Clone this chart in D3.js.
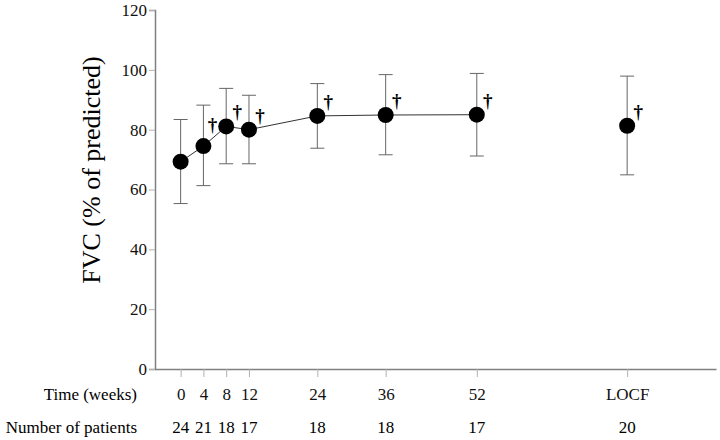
<!DOCTYPE html>
<html>
<head>
<meta charset="utf-8">
<script src="https://cdn.jsdelivr.net/npm/d3@7"></script>
<style>
  body { margin: 0; background: #fff; }
  svg text { font-family: "Liberation Serif", "DejaVu Serif", "Times New Roman", serif; }
</style>
</head>
<body>
<svg id="chart"></svg>
<script>
// data
const timeLabels = ["0", "4", "8", "12", "24", "36", "52", "LOCF"];
const timePos = [0, 4, 8, 12, 24, 36, 52, 78.4]; // LOCF drawn on its own past week 52
const fvcMean = [69.3, 74.5, 81.1, 80.0, 84.6, 84.9, 85.0, 81.3];
const fvcUpper = [83.4, 88.2, 93.8, 91.5, 95.4, 98.4, 98.8, 97.9];
const fvcLower = [55.3, 61.3, 68.6, 68.6, 73.8, 71.6, 71.2, 64.9];
const patients = [24, 21, 18, 17, 18, 18, 17, 20];
const significant = [false, true, true, true, true, true, true, true];
const yTicks = [0, 20, 40, 60, 80, 100, 120];

const width = 720, height = 440;
const serif = '"Liberation Serif", "DejaVu Serif", serif';
const svg = d3.select("#chart").attr("width", width).attr("height", height);

const x = d3.scaleLinear().domain([-4.5, 94]).range([155, 716]);
const y = d3.scaleLinear().domain([0, 120]).range([369, 10]);

const points = timePos.map((t, i) => ({
  t, label: timeLabels[i], mean: fvcMean[i], hi: fvcUpper[i], lo: fvcLower[i],
  n: patients[i], sig: significant[i],
  next: i < timePos.length - 2 ? fvcMean[i + 1] : null
}));

// y axis
const yAxis = svg.append("g")
  .attr("transform", `translate(${x(-4.5)},0)`)
  .call(d3.axisLeft(y).tickValues(yTicks).tickSize(6).tickPadding(2))
  .attr("font-family", serif);
yAxis.select(".domain").attr("stroke", "#808080").attr("stroke-width", 1.5);
yAxis.selectAll(".tick line").attr("stroke", "#b0b0b0");
yAxis.selectAll(".tick text")
  .attr("fill", "#111")
  .attr("font-size", 17);

// x axis
const xAxis = svg.append("g")
  .attr("transform", `translate(0,${y(0)})`)
  .call(d3.axisBottom(x)
    .tickValues(timePos)
    .tickFormat((d, i) => timeLabels[i])
    .tickSize(8)
    .tickSizeOuter(0)
    .tickPadding(11))
  .attr("font-family", serif);
xAxis.select(".domain").attr("stroke", "#808080").attr("stroke-width", 1.5);
xAxis.selectAll(".tick line").attr("stroke", "#b0b0b0");
xAxis.selectAll(".tick text")
  .attr("fill", "#111")
  .attr("font-size", 17);

// row titles and patient counts
svg.append("text")
  .attr("x", 137).attr("y", 400)
  .attr("text-anchor", "end")
  .attr("font-size", 17)
  .text("Time (weeks)");

svg.append("text")
  .attr("x", 137).attr("y", 433)
  .attr("text-anchor", "end")
  .attr("font-size", 17)
  .text("Number of patients");

svg.append("g").selectAll("text")
  .data(points)
  .join("text")
  .attr("x", d => x(d.t))
  .attr("y", 433)
  .attr("text-anchor", "middle")
  .attr("font-size", 17)
  .text(d => d.n);

// y label
svg.append("text")
  .attr("transform", "rotate(-90)")
  .attr("x", -170).attr("y", 100)
  .attr("text-anchor", "middle")
  .attr("font-size", 26)
  .text("FVC (% of predicted)");

// error bars
const bars = svg.append("g").attr("stroke", "#666").attr("stroke-width", 1);
bars.selectAll("line.v")
  .data(points)
  .join("line")
  .attr("class", "v")
  .attr("x1", d => x(d.t)).attr("x2", d => x(d.t))
  .attr("y1", d => y(d.hi)).attr("y2", d => y(d.lo));
bars.selectAll("line.top")
  .data(points)
  .join("line")
  .attr("class", "top")
  .attr("x1", d => x(d.t) - 7).attr("x2", d => x(d.t) + 7)
  .attr("y1", d => y(d.hi)).attr("y2", d => y(d.hi));
bars.selectAll("line.bot")
  .data(points)
  .join("line")
  .attr("class", "bot")
  .attr("x1", d => x(d.t) - 7).attr("x2", d => x(d.t) + 7)
  .attr("y1", d => y(d.lo)).attr("y2", d => y(d.lo));

// connecting line (visits only, not LOCF)
const line = d3.line().x(d => x(d.t)).y(d => y(d.mean));
svg.append("path")
  .datum(points.filter(d => d.label !== "LOCF"))
  .attr("d", line)
  .attr("fill", "none")
  .attr("stroke", "#333")
  .attr("stroke-width", 1);

// markers
svg.append("g").selectAll("circle")
  .data(points)
  .join("circle")
  .attr("cx", d => x(d.t))
  .attr("cy", d => y(d.mean))
  .attr("r", 8)
  .attr("fill", "#000");

// significance daggers, lifted when the next segment climbs steeply
const lift = d => (d.next !== null && d.next - d.mean > 5 ? 7 : 0);
svg.append("g").selectAll("text")
  .data(points.filter(d => d.sig))
  .join("text")
  .attr("x", d => x(d.t) + 11 - (lift(d) ? 2 : 0))
  .attr("y", d => y(d.mean) - 8 - lift(d))
  .attr("text-anchor", "middle")
  .attr("font-size", 19)
  .attr("font-weight", "bold")
  .attr("fill", "#000")
  .text("†");
</script>
</body>
</html>
